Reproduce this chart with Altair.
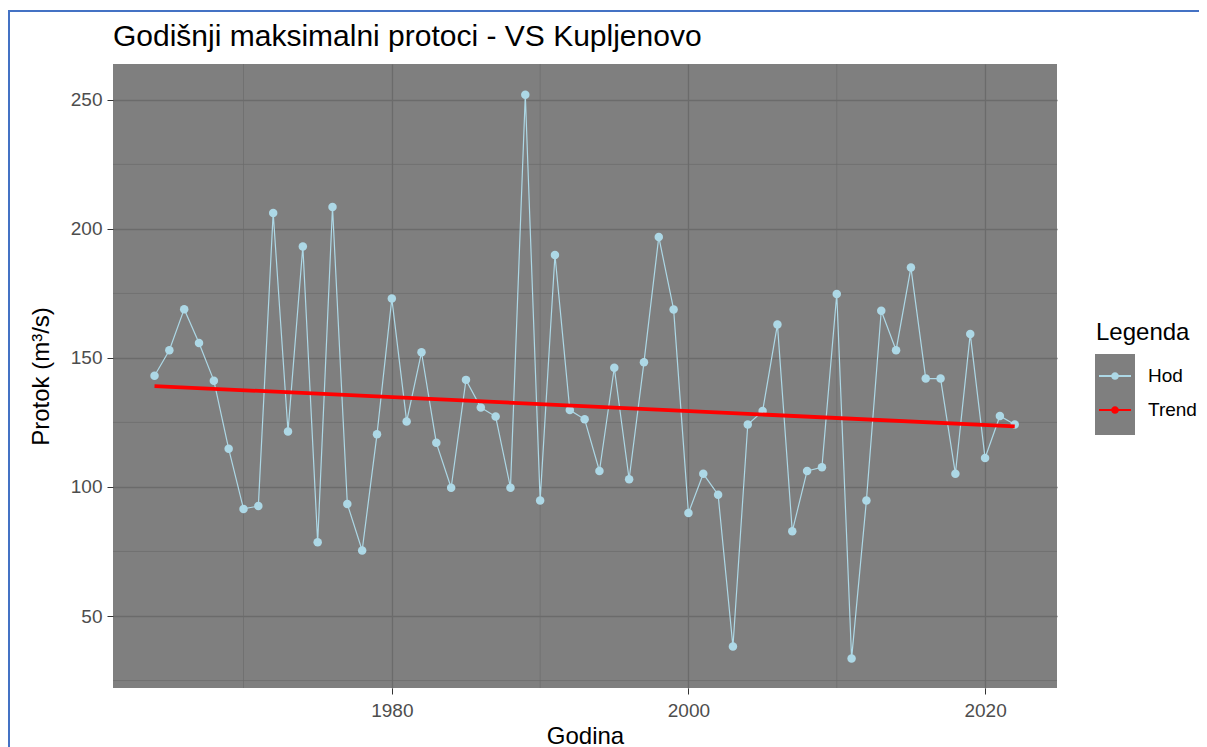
import altair as alt
import pandas as pd

# ---- data ----
years = list(range(1964, 2023))
flows = [
    143.1, 153.0, 168.9, 155.8, 141.2, 114.8, 91.5, 92.6, 206.2, 121.5,
    193.2, 78.6, 208.5, 93.4, 75.4, 120.4, 173.0, 125.4, 152.2, 117.1,
    99.7, 141.5, 130.8, 127.3, 99.7, 252.0, 94.8, 189.9, 129.8, 126.2,
    106.2, 146.2, 103.0, 148.3, 196.9, 168.8, 89.9, 105.1, 97.0, 38.2,
    124.2, 129.4, 163.0, 82.8, 106.2, 107.6, 174.8, 33.5, 94.8, 168.3,
    153.0, 185.0, 142.0, 142.0, 105.1, 159.3, 111.2, 127.5, 124.2,
]
trend_years = [1964, 2022]
trend_flows = [139.1, 123.5]
series_names = ["Hod", "Trend"]
series_colors = ["#ADD8E6", "#FF0000"]
x_major = [1980, 2000, 2020]
x_minor = [1970, 1990, 2010]
y_major = [50, 100, 150, 200, 250]
y_minor = [25, 75, 125, 175, 225]

FONT = "Liberation Sans"
W, H = 944, 624

hod = pd.DataFrame({"Godina": years, "Protok": flows, "Serija": ["Hod"] * len(years)})
trend = pd.DataFrame({"Godina": trend_years, "Protok": trend_flows, "Serija": ["Trend"] * len(trend_years)})
xminor_df = pd.DataFrame({"Godina": x_minor})
yminor_df = pd.DataFrame({"Protok": y_minor})
one = pd.DataFrame({"k": [0]})

xscale = alt.Scale(domain=[1961.2, 2024.85], nice=False, zero=False)
yscale = alt.Scale(domain=[22.1, 263.9], nice=False, zero=False)

x_axis = alt.Axis(values=x_major, format="d", title="Godina", titleX=472, titleY=55,
                  titleBaseline="alphabetic", titleAlign="center", labelPadding=7)
y_axis = alt.Axis(values=y_major, title="Protok (m³/s)", titleX=-64.5, titleY=312,
                  titleBaseline="alphabetic", titleAlign="center", titleAngle=270, labelPadding=5)

X = alt.X("Godina:Q", scale=xscale, axis=x_axis)
Y = alt.Y("Protok:Q", scale=yscale, axis=y_axis)

legend_path = ("M-1,-0.06H-0.2V0.06H-1Z M0.2,-0.06H1V0.06H0.2Z "
               "M-0.24,0A0.24,0.24,0,1,1,0.24,0A0.24,0.24,0,1,1,-0.24,0Z")

minor_x = alt.Chart(xminor_df).mark_rule(color="#6B6B6B", strokeWidth=0.7).encode(x=X)
minor_y = alt.Chart(yminor_df).mark_rule(color="#6B6B6B", strokeWidth=0.7).encode(y=Y)

key_bg = alt.Chart(one).mark_rect(color="#7F7F7F").encode(
    x=alt.value(982), x2=alt.value(1022), y=alt.value(290), y2=alt.value(371))

frame_top = alt.Chart(one).mark_rule(color="#4472C4", strokeWidth=2).encode(
    x=alt.value(-105), x2=alt.value(1100), y=alt.value(-53))
frame_left = alt.Chart(one).mark_rule(color="#4472C4", strokeWidth=2).encode(
    x=alt.value(-104), y=alt.value(-54), y2=alt.value(700))

hod_line = alt.Chart(hod).mark_line(color="#ADD8E6", strokeWidth=1.2).encode(x=X, y=Y)
hod_pts = alt.Chart(hod).mark_circle(size=72, opacity=1).encode(
    x=X, y=Y,
    color=alt.Color("Serija:N",
                    scale=alt.Scale(domain=series_names, range=series_colors),
                    legend=alt.Legend(
                        title="Legenda", orient="none", legendX=983, legendY=257,
                        symbolType=legend_path, symbolSize=1024, symbolStrokeWidth=0,
                        symbolOpacity=1, symbolOffset=3,
                        labelFontSize=19, labelColor="black", labelFont=FONT,
                        titleFontSize=24, titleColor="black", titleFont=FONT,
                        titleFontWeight="normal", labelOffset=17, rowPadding=8,
                        titlePadding=15, padding=0)),
)
trend_line = alt.Chart(trend).mark_line(color="#FF0000", strokeWidth=3.8).encode(x=X, y=Y)

chart = alt.layer(
    minor_x, minor_y, key_bg, frame_top, frame_left, hod_line, hod_pts, trend_line
).properties(
    width=W, height=H,
    title=alt.TitleParams("Godišnji maksimalni protoci - VS Kupljenovo", anchor="start",
                          frame="group", fontSize=30, font=FONT, fontWeight="normal",
                          color="black", offset=11, dy=54),
    autosize=alt.AutoSizeParams(type="none"),
    padding={"left": 105, "top": 56, "right": 142, "bottom": 59},
).configure_view(
    fill="#7F7F7F", strokeWidth=0
).configure_axis(
    domain=False, tickColor="#333333", tickWidth=1, tickSize=6,
    labelColor="#4D4D4D", labelFontSize=19, labelFont=FONT,
    gridColor="#6B6B6B", gridWidth=1.3,
    titleFontSize=24, titleColor="black", titleFontWeight="normal", titleFont=FONT,
)

chart.save("out.html", embed_options={"renderer": "svg", "actions": False})
